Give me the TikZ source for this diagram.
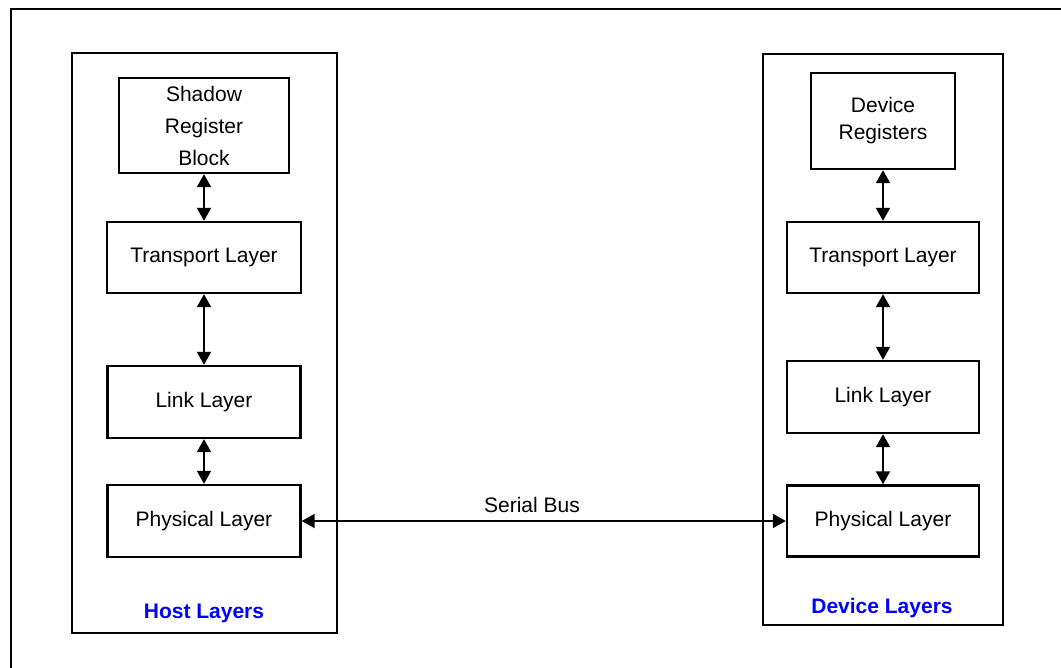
\documentclass[tikz,border=0pt]{standalone}
\usepackage{fontspec}
\setmainfont{Liberation Sans}
\usetikzlibrary{arrows.meta}
\tikzset{
	stackbox/.style={draw,line width=2.4pt,inner sep=0pt},
	layerbox/.style={draw,line width=2.4pt,inner sep=0pt,align=center,font=\fontsize{21}{27}\selectfont},
	stacklabel/.style={text=blue,font=\fontsize{21}{25}\selectfont\bfseries},
	buslabel/.style={font=\fontsize{21}{25}\selectfont},
	busarrow/.style={line width=2pt,{Triangle[width=14pt,length=13pt]}-{Triangle[width=14pt,length=13pt]}}
}
\begin{document}
\begin{tikzpicture}[x=1pt,y=-1pt]
			\useasboundingbox (0,0) rectangle (1061,668);
			\clip (0,0) rectangle (1061,668);
			\draw [line width=2.4pt] (11,9) rectangle (1090,700);
			\node [stackbox,minimum width=265pt,minimum height=580pt] (host) at (204.5,343) {};
			\node [stackbox,minimum width=240pt,minimum height=571pt] (device) at (883,339.5) {};
			\node [layerbox,minimum width=170pt,minimum height=95pt,font=\fontsize{21}{32}\selectfont] (hshadow) at (204,125.5) {Shadow\\Register\\Block};
			\node [layerbox,minimum width=194pt,minimum height=71pt] (htransport) at (204,257.5) {Transport Layer};
			\node [layerbox,minimum width=193pt,minimum height=72pt] (hlink) at (204,402) {Link Layer};
			\node [layerbox,minimum width=193pt,minimum height=72pt] (hphysical) at (204,521) {Physical Layer};
			\node [stacklabel] (hlabel) at (204,613) {Host Layers};
			\node [layerbox,minimum width=144pt,minimum height=96pt] (dregisters) at (883,121) {Device\\Registers};
			\node [layerbox,minimum width=192pt,minimum height=71pt] (dtransport) at (883,257.5) {Transport Layer};
			\node [layerbox,minimum width=192pt,minimum height=72pt] (dlink) at (883,397) {Link Layer};
			\node [layerbox,minimum width=192pt,minimum height=71pt] (dphysical) at (883,521) {Physical Layer};
			\node [stacklabel] (dlabel) at (882,608) {Device Layers};
			\node [buslabel] (serialbus) at (532,505) {Serial Bus};
			\draw [busarrow] (hshadow) -- (htransport);
			\draw [busarrow] (htransport) -- (hlink);
			\draw [busarrow] (hlink) -- (hphysical);
			\draw [busarrow] (dregisters) -- (dtransport);
			\draw [busarrow] (dtransport) -- (dlink);
			\draw [busarrow] (dlink) -- (dphysical);
			\draw [busarrow] (hphysical) -- (dphysical);
		\end{tikzpicture}
\end{document}
